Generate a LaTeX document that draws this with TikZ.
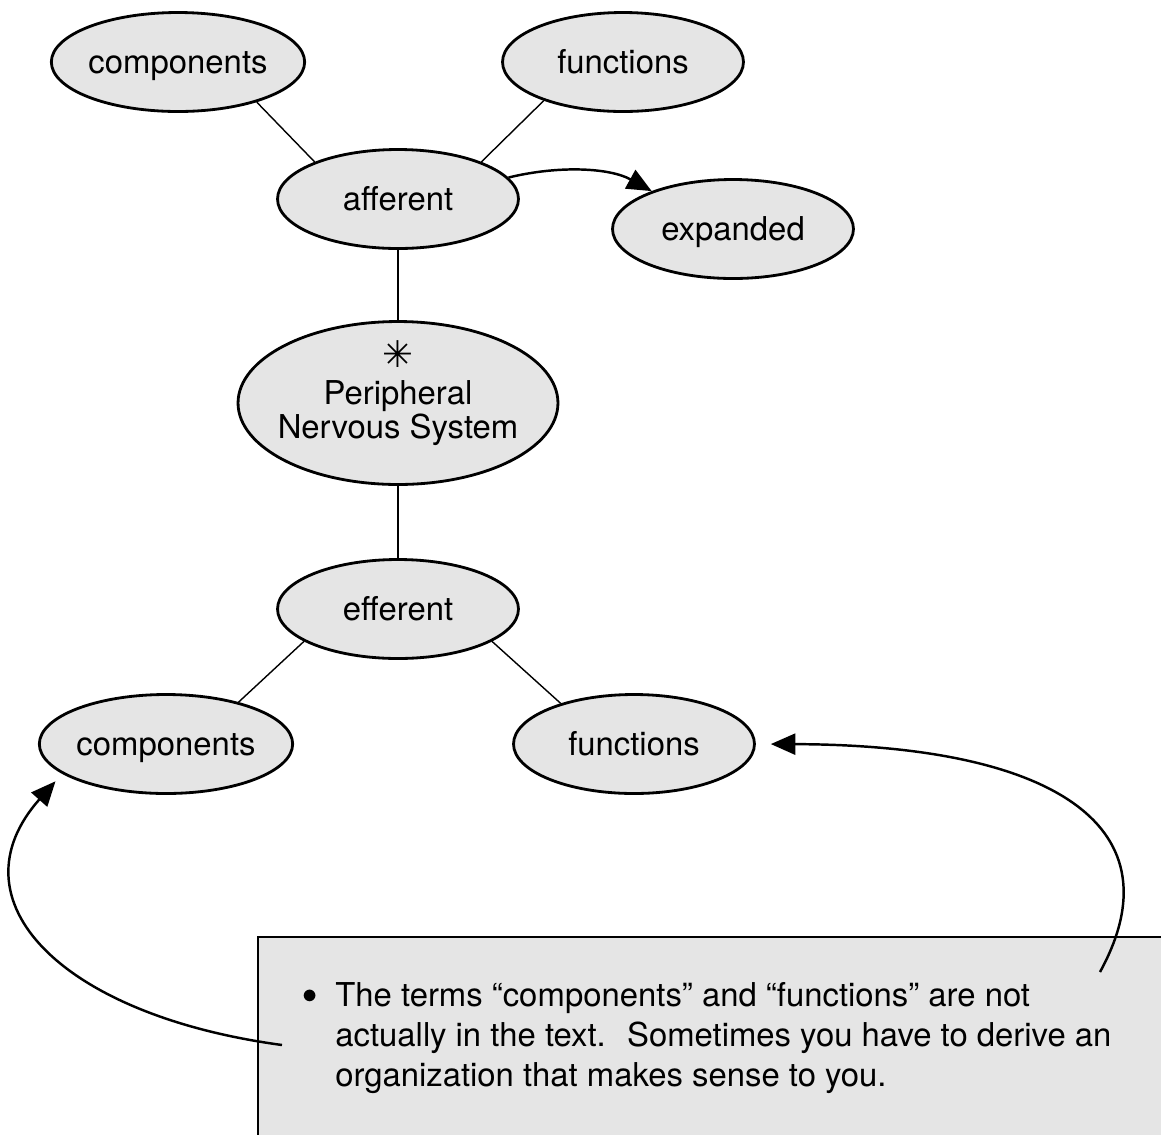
\documentclass[tikz,border=0pt]{standalone}
\usepackage{fontspec}
\setmainfont{TeX Gyre Heros}
\newfontfamily\symfont{DejaVu Sans}
\usetikzlibrary{arrows.meta,shapes.geometric}

\begin{document}
\begin{tikzpicture}[x=0.02cm, y=-0.02cm, >={Triangle[length=14pt,width=12pt]},
    every node/.style={font=\fontsize{18.7}{22.8}\selectfont},
    concept/.style={ellipse, draw, line width=1.6pt, fill=black!10,
      minimum width=4.82cm, minimum height=1.98cm, inner sep=0pt,
      text height=13pt, text depth=0pt},
    link/.style={line width=0.8pt},
    pointer/.style={->, line width=1.4pt}]
    \useasboundingbox (0,0) rectangle (1161,1134);

    % Concept ellipses
    \node[concept] (compT) at (178,62) {components};
    \node[concept] (funcT) at (623,62) {functions};
    \node[concept] (aff) at (398,199) {afferent};
    \node[concept] (exp) at (733,229) {expanded};
    \node[concept] (eff) at (398,609) {efferent};
    \node[concept] (compB) at (166,744) {components};
    \node[concept] (funcB) at (634,744) {functions};

    % Central concept
    \node[concept, minimum width=6.4cm, minimum height=3.26cm] (pns) at (398,403) {};
    \node[anchor=base, inner sep=0pt, font=\symfont\fontsize{21}{21}\selectfont]
      (pnsStar) at (398,367) {✳};
    \node[anchor=base, inner sep=0pt] (pnsTop) at (398,404) {Peripheral};
    \node[anchor=base, inner sep=0pt] (pnsBot) at (398,438) {Nervous System};

    % Links
    \draw[link] (compT.-27.5) -- (aff.156);
    \draw[link] (funcT.206) -- (aff.24);
    \draw[link] (aff) -- (pns);
    \draw[link] (pns) -- (eff);
    \draw[link] (eff.199) -- (compB.30);
    \draw[link] (eff.-19) -- (funcB.151);

    % Note box
    \fill[black!10] (258,937) rectangle (1175,1145);
    \draw[line width=1.6pt] (258,1145) -- (258,937) -- (1175,937);
    \node[anchor=base west, inner sep=0pt] (note) at (302,1006)
      {\begin{tabular}[t]{@{}p{18.8pt}@{}l@{}}
        \raisebox{1.5pt}{$\bullet$} & The terms “components” and “functions” are not\\
          & actually in the text.~ Sometimes you have to derive an\\
          & organization that makes sense to you.
       \end{tabular}};
    \coordinate (noteL) at (282,1045);
    \coordinate (noteR) at (1100,972);

    % Arrows
    \draw[pointer] (aff.11) .. controls (560,165) and (610,168) .. (exp.155);
    \draw[pointer, shorten >=5.7pt] (noteL) .. controls (60,1015) and (-50,900) .. (compB.196);
    \draw[pointer, shorten >=8.5pt] (noteR) .. controls (1178,830) and (1060,745) .. (funcB.east);
\end{tikzpicture}
\end{document}
